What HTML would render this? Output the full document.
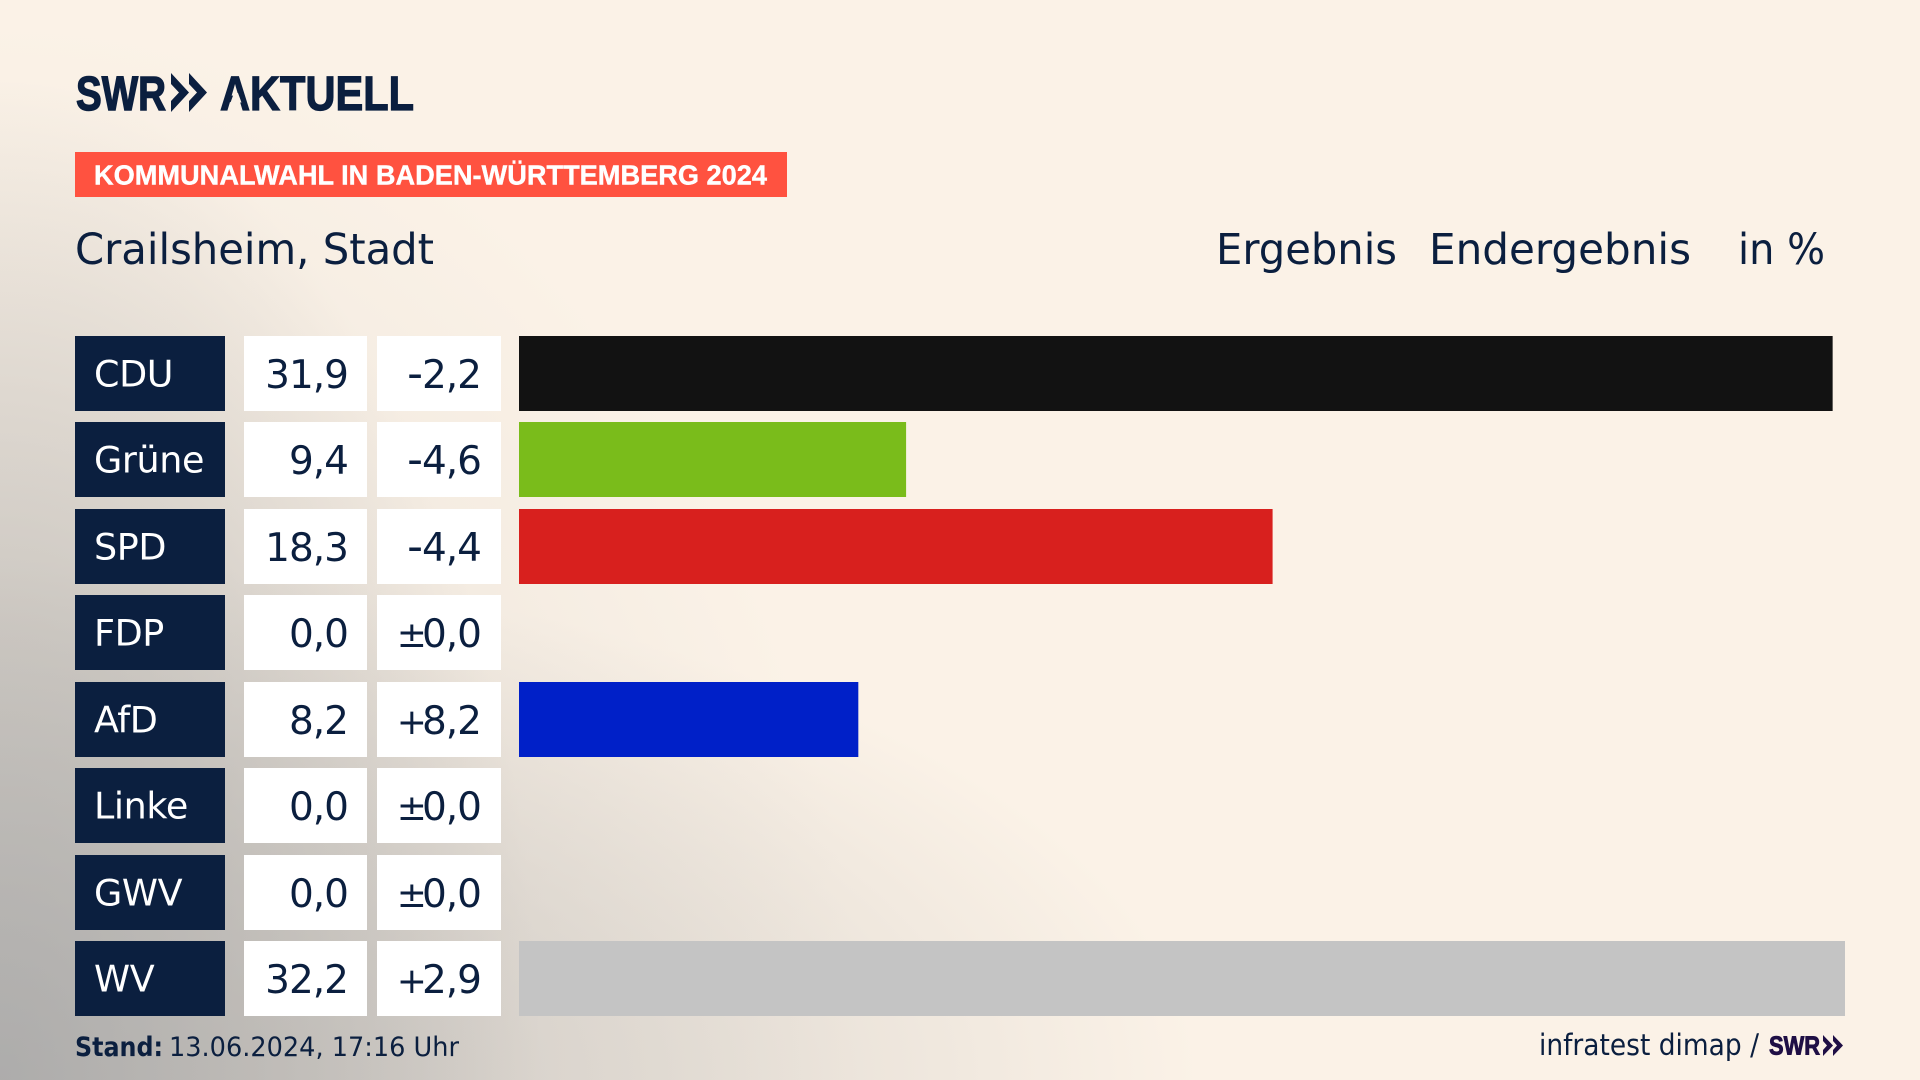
<!DOCTYPE html>
<html lang="de">
<head>
<meta charset="utf-8">
<title>Kommunalwahl Crailsheim</title>
<style>
html,body{margin:0;padding:0;width:1920px;height:1080px;overflow:hidden;background:#fbf2e7}
#bg{position:absolute;left:0;top:0;width:1920px;height:1080px;
background:
radial-gradient(ellipse 540px 1000px at 0px 1080px,rgba(165,165,165,.72) 0%,rgba(175,173,170,.52) 45%,rgba(190,185,180,0) 100%),
radial-gradient(ellipse 1200px 520px at 0px 1080px,rgba(175,173,172,.62) 0%,rgba(190,187,183,.38) 55%,rgba(200,196,192,0) 100%),
radial-gradient(ellipse 860px 1060px at 0px 1080px,rgba(200,197,193,.5) 0%,rgba(212,207,201,.25) 60%,rgba(220,215,208,0) 100%),
#fbf2e7}
svg{position:absolute;left:0;top:0}
text{font-family:"DejaVu Sans","Liberation Sans",sans-serif;fill:#0b1f3f}
</style>
</head>
<body>
<div id="bg"></div>
<svg id="chart" width="1920" height="1080" viewBox="0 0 1920 1080">
  <g>
    <text x="76" y="110" font-size="48" font-weight="700" textLength="90" lengthAdjust="spacingAndGlyphs" stroke="#0b1f3f" stroke-width="1.4" style="font-family:'Liberation Sans',sans-serif">SWR</text>
    <polygon points="171,73 189,92.5 171,112 171,101 179,92.5 171,84" fill="#0b1f3f"></polygon>
    <polygon points="189,73 207,92.5 189,112 189,101 197,92.5 189,84" fill="#0b1f3f"></polygon>
    <text x="220" y="110" font-size="48" font-weight="700" textLength="194" lengthAdjust="spacingAndGlyphs" stroke="#0b1f3f" stroke-width="1.2" style="font-family:'Liberation Sans',sans-serif">AKTUELL</text>
    <polygon points="234,93 238,93 241.5,102.5 230.5,102.5" fill="#faf1e6"></polygon>
  </g>
  <rect x="75" y="152" width="712" height="45" fill="#ff5240"></rect>
  <text x="94" y="184.5" font-size="28" font-weight="700" textLength="673" lengthAdjust="spacingAndGlyphs" stroke="#fff" stroke-width="0.4" style="font-family:'Liberation Sans',sans-serif;fill:#fff">KOMMUNALWAHL IN BADEN-WÜRTTEMBERG 2024</text>
  <text x="75" y="264" font-size="43" textLength="359" lengthAdjust="spacingAndGlyphs">Crailsheim, Stadt</text>
  <text x="1216" y="264" font-size="43" textLength="181" lengthAdjust="spacingAndGlyphs">Ergebnis</text>
  <text x="1429" y="264" font-size="43" textLength="262" lengthAdjust="spacingAndGlyphs">Endergebnis</text>
  <text x="1738" y="264" font-size="43" textLength="87" lengthAdjust="spacingAndGlyphs">in %</text>
  <g id="rows"></g>
  <text x="75" y="1056" font-size="27" font-weight="700" textLength="88" lengthAdjust="spacingAndGlyphs">Stand:</text>
  <text x="169" y="1056" font-size="27" textLength="290" lengthAdjust="spacingAndGlyphs">13.06.2024, 17:16 Uhr</text>
  <text x="1539" y="1055" font-size="29" textLength="220" lengthAdjust="spacingAndGlyphs">infratest dimap /</text>
  <g>
    <text x="1769" y="1054.5" font-size="26" font-weight="700" textLength="51" lengthAdjust="spacingAndGlyphs" stroke="#1f0f45" stroke-width="0.9" style="font-family:'Liberation Sans',sans-serif;fill:#1f0f45">SWR</text>
    <polygon points="1823,1035 1833,1045.5 1823,1056 1823,1050 1827,1045.5 1823,1041" fill="#1f0f45"></polygon>
    <polygon points="1833,1035 1843,1045.5 1833,1056 1833,1050 1837,1045.5 1833,1041" fill="#1f0f45"></polygon>
  </g>
</svg>
<script>
const parties = ["CDU", "Grüne", "SPD", "FDP", "AfD", "Linke", "GWV", "WV"];
const results = [31.9, 9.4, 18.3, 0.0, 8.24, 0.0, 0.0, 32.2];
const changes = [-2.2, -4.6, -4.4, 0.0, 8.2, 0.0, 0.0, 2.9];

const NS = "http://www.w3.org/2000/svg";
const barColor = { "CDU": "#121212", "Grüne": "#7abc1b", "SPD": "#d8201e", "FDP": "#f7d900", "AfD": "#0020c8", "Linke": "#b01c5c", "GWV": "#c4c4c4", "WV": "#c4c4c4" };
const barLeft = 519;
const unitWidth = 41.18;
const rowStart = 336;
const rowStep = 86.43;
const rowHeight = 75;

function xScale(v) { return barLeft + v * unitWidth; }
function rowTop(i) { return Math.round(rowStart + i * rowStep); }
function formatResult(v) { return v.toFixed(1).replace(".", ","); }
function changeSign(v) { return v === 0 ? "±" : (v > 0 ? "+" : "-"); }
function changeDigits(v) { return Math.abs(v).toFixed(1).replace(".", ","); }
function make(tag, attrs, content) {
  const el = document.createElementNS(NS, tag);
  for (const k in attrs) el.setAttribute(k, attrs[k]);
  if (content !== undefined) el.textContent = content;
  return el;
}
function slug(s) { return s.toLowerCase().replace("ü", "ue"); }

const rowsGroup = document.getElementById("rows");
parties.forEach(function (party, i) {
  const top = rowTop(i);
  const id = slug(party);
  const base = top + 50.5;

  const labelBox = make("rect", { x: 75, y: top, width: 150, height: rowHeight, fill: "#0b1f3f" });
  
  
  rowsGroup.appendChild(labelBox);

  const label = make("text", { x: 94, y: base, "font-size": 36.5, "letter-spacing": "-0.4" }, party);
  label.style.fill = "#fff";
  
  
  rowsGroup.appendChild(label);

  const valueBox = make("rect", { x: 244, y: top, width: 123, height: rowHeight, fill: "#fff" });
  
  
  rowsGroup.appendChild(valueBox);

  const value = make("text", { x: 348, y: base + 1.5, "font-size": 39, "letter-spacing": "-1", "text-anchor": "end" }, formatResult(results[i]));
  
  
  rowsGroup.appendChild(value);

  const changeBox = make("rect", { x: 377, y: top, width: 124, height: rowHeight, fill: "#fff" });
  
  
  rowsGroup.appendChild(changeBox);

  const change = make("text", { x: 481, y: base + 1.5, "font-size": 39, "letter-spacing": "-1", "text-anchor": "end" });
  const sign = changeSign(changes[i]);
  const signSpan = make("tspan", sign === "-" ? { "font-size": 44 } : { "font-size": 36, "letter-spacing": "-5" }, sign);
  const digitSpan = make("tspan", {}, changeDigits(changes[i]));
  change.appendChild(signSpan);
  change.appendChild(digitSpan);
  
  
  rowsGroup.appendChild(change);

  const bar = make("rect", { x: xScale(0), y: top, width: xScale(results[i]) - xScale(0), height: rowHeight, fill: barColor[party] });
  
  
  rowsGroup.appendChild(bar);
});
</script>
</body>
</html>
